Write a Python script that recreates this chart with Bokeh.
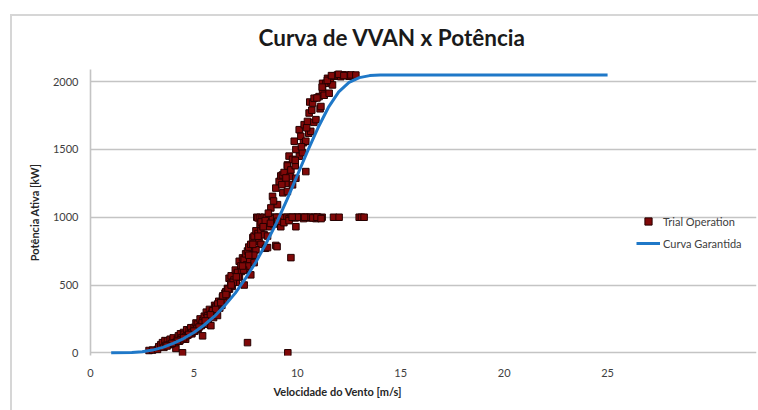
from bokeh.plotting import figure
from bokeh.models import Range1d, Legend, LegendItem, Title, FixedTicker
from bokeh.embed import file_html
from bokeh.resources import INLINE

# Guaranteed power curve (wind speed m/s, power kW)
curve_wind = [1, 2, 2.5, 3, 3.5, 4, 4.5, 5, 5.5, 6, 6.5, 7, 7.5, 8, 8.5, 9, 9.5, 10,
              10.5, 11, 11.5, 12, 12.5, 13, 13.5, 14, 15, 20, 25]
curve_power = [0, 2, 8, 20, 40, 70, 105, 150, 205, 270, 350, 440, 550, 670, 810, 960, 1130, 1310,
               1490, 1660, 1810, 1925, 1995, 2030, 2045, 2050, 2050, 2050, 2050]

trial_wind = [
    2.83, 3.0, 3.24, 3.3, 3.4, 3.48, 3.55, 3.6, 3.72, 3.8, 3.85, 3.96, 4.0, 4.05, 4.13, 4.2, 4.25, 4.3,
    4.35, 4.4, 4.45, 4.5, 4.53, 4.6, 4.65, 4.7, 4.77, 4.85, 4.9, 5.01, 5.05, 5.1, 5.17, 5.2, 5.3, 5.35,
    5.42, 5.42, 5.5, 5.55, 5.6, 5.66, 5.7, 5.75, 5.82, 5.85, 5.9, 5.95, 6.0, 6.06, 6.1, 6.14, 6.2, 6.25,
    6.3, 6.35, 6.38, 6.45, 6.5, 6.54, 6.6, 6.62, 6.7, 6.72, 6.78, 6.8, 6.85, 6.94, 7.0, 7.05, 7.1, 7.11,
    7.19, 7.2, 7.27, 7.3, 7.35, 7.43, 7.43, 7.5, 7.51, 7.55, 7.59, 7.59, 7.65, 7.7, 7.75, 7.75, 7.8, 7.85,
    7.91, 7.91, 7.95, 8.0, 8.04, 8.1, 8.15, 8.2, 8.24, 8.24, 8.3, 8.35, 8.4, 8.46, 8.5, 8.56, 8.56, 8.6,
    8.65, 8.72, 8.8, 8.85, 8.9, 8.96, 8.96, 9.02, 9.04, 9.1, 9.12, 9.15, 9.2, 9.2, 9.28, 9.3, 9.36, 9.4,
    9.45, 9.52, 9.52, 9.52, 9.54, 9.6, 9.65, 9.69, 9.69, 9.77, 9.77, 9.8, 9.85, 9.9, 9.93, 9.93, 9.93,
    10.0, 10.09, 10.1, 10.17, 10.2, 10.25, 10.3, 10.33, 10.41, 10.41, 10.45, 10.49, 10.55, 10.57, 10.6,
    10.65, 10.7, 10.74, 10.8, 10.81, 10.9, 10.95, 11.05, 11.1, 11.14, 11.2, 11.22, 11.22, 11.3, 11.38,
    11.46, 11.54, 11.6, 11.7, 11.75, 11.8, 11.94, 12.02, 12.1, 12.2, 12.35, 12.5, 12.59, 12.83, 12.99,
    13.1, 13.23,
    8.1, 8.2, 8.3, 8.4, 8.5, 8.7, 8.8, 9.0, 9.3, 9.5, 9.6, 9.7, 9.9, 10.1, 10.3, 10.4, 10.6, 10.8, 10.9,
    11.0, 11.1, 8.25, 8.45, 8.7, 9.05, 9.35, 9.6, 10.6, 10.75, 10.95, 11.15, 10.35, 10.0, 9.75, 8.0,
    7.9, 7.6, 7.4, 7.15, 6.9, 6.65, 6.4, 6.15, 5.9, 5.65, 5.4, 5.15, 4.9, 4.6, 4.35, 4.1, 3.9, 3.65,
    9.9, 10.2, 10.45, 10.7, 10.95, 11.2, 11.45, 11.65, 12.0, 12.25, 9.25, 9.45, 8.85, 8.6, 8.35, 8.1,
    7.85, 7.65, 7.35, 7.05, 6.8, 6.55, 6.3, 6.05, 5.8, 5.55, 5.25, 5.0, 4.75, 4.5, 4.2, 3.95, 3.7,
]
trial_power = [
    17, 20, 25, 45, 60, 75, 40, 90, 88, 60, 100, 88, 110, 70, 32, 100, 125, 85,
    140, 110, 0, 150, 137, 100, 170, 130, 162, 185, 140, 187, 160, 220, 212, 175, 250, 200,
    237, 125, 270, 210, 300, 275, 240, 320, 200, 290, 312, 260, 350, 337, 300, 275, 380, 330,
    375, 350, 412, 390, 440, 450, 420, 475, 550, 470, 512, 568, 490, 537, 610, 520, 587, 593,
    675, 560, 641, 600, 700, 690, 500, 730, 612, 650, 75, 751, 780, 690, 800, 575, 720, 850,
    861, 665, 760, 900, 1000, 880, 820, 950, 898, 800, 990, 930, 870, 771, 960, 861, 776, 1000,
    930, 1069, 1154, 950, 1000, 1215, 792, 783, 1093, 1000, 1264, 960, 930, 1305, 1312, 1180, 1330, 1000,
    1250, 1386, 1378, 1190, 0, 1451, 1300, 1349, 702, 1427, 1239, 1000, 1561, 1380, 1500, 1288, 930,
    1000, 1646, 1450, 1597, 1000, 1476, 1550, 1683, 1561, 1337, 1000, 1707, 1620, 1769, 1850,
    1634, 1000, 1842, 1700, 1878, 1720, 1000, 1890, 1800, 1817, 1000, 1939, 1988, 1900, 1988,
    2025, 1915, 2000, 1976, 1000, 2040, 2050, 1000, 2037, 2050, 2049, 2040, 2050, 2049, 1000,
    1000, 1000,
    995, 1000, 995, 1000, 995, 1000, 990, 1000, 995, 1000, 990, 1000, 995, 1000, 990, 1000, 995, 1000, 990,
    1000, 995, 965, 975, 955, 970, 960, 975, 1000, 995, 1000, 990, 1000, 1000, 1000, 760,
    720, 640, 610, 560, 520, 470, 420, 360, 310, 260, 220, 180, 150, 120, 95, 75, 65, 55,
    1420, 1520, 1660, 1790, 1880, 1960, 2010, 2045, 2055, 2045, 1240, 1290, 1120, 1030, 930, 860,
    800, 720, 640, 560, 500, 430, 370, 320, 280, 235, 190, 160, 135, 110, 85, 70, 50,
]

x_ticks = [0, 5, 10, 15, 20, 25]
y_ticks = [0, 500, 1000, 1500, 2000]
x_max = 25

FONT = "Lato"

# frame extends to the right edge so the legend (drawn inside the frame) is not clipped;
# the scale keeps 0..25 over the original plot width
p = figure(width=758, height=410, output_backend="svg", toolbar_location=None,
           x_range=Range1d(0, 32.2), y_range=Range1d(-20, 2090),
           min_border_left=90, min_border_right=2, min_border_top=69, min_border_bottom=55)
# light chart-area border (left and top edges), drawn behind a transparent border area
p.styles = {
    "background-color": "white",
    "background-image": "linear-gradient(#d6d6d6, #d6d6d6), linear-gradient(#d6d6d6, #d6d6d6)",
    "background-size": "2px 100%, 100% 2px",
    "background-position": "10px 14px, 10px 14px",
    "background-repeat": "no-repeat",
}

p.title = Title(text="Curva de VVAN x Potência", align="left", offset=168,
                text_font=FONT, text_font_size="22.5px", text_font_style="bold",
                text_color="#1a1a1a", standoff=38)

p.outline_line_color = None
p.background_fill_color = "white"
p.border_fill_color = None

p.xgrid.grid_line_color = None
p.ygrid.grid_line_color = "#c4c4c4"
p.ygrid.grid_line_width = 1.6
p.ygrid.ticker = FixedTicker(ticks=y_ticks)
p.ygrid.bounds = (0, x_max)

p.xaxis.ticker = FixedTicker(ticks=x_ticks)
p.yaxis.ticker = FixedTicker(ticks=y_ticks)
for ax in (p.xaxis, p.yaxis):
    ax.major_tick_line_color = None
    ax.minor_tick_line_color = None
    ax.major_tick_out = 0
    ax.major_tick_in = 0
    ax.major_label_text_font = FONT
    ax.major_label_text_font_size = "11px"
    ax.major_label_text_color = "#404040"
    ax.axis_label_text_font = FONT
    ax.axis_label_text_font_size = "11px"
    ax.axis_label_text_font_style = "bold"
    ax.axis_label_text_color = "#262626"

p.xaxis.axis_line_color = None
p.yaxis.axis_line_color = "#c4c4c4"
p.yaxis.axis_line_width = 1.6
p.yaxis.axis_label = "Potência Ativa [kW]"
p.xaxis.major_label_standoff = 13
p.yaxis.major_label_standoff = 12
p.yaxis.axis_label_standoff = 9

xlabel = Title(text="Velocidade do Vento [m/s]", align="left", offset=183,
               text_font=FONT, text_font_size="11px", text_font_style="bold",
               text_color="#262626", standoff=6)
p.add_layout(xlabel, "below")

sc = p.scatter(trial_wind, trial_power, marker="square", size=6.5,
               fill_color="#800808", line_color="#260000", line_width=1)
ln = p.line(curve_wind, curve_power, line_color="#1f78c8", line_width=3)

legend = Legend(items=[LegendItem(label="Trial Operation", renderers=[sc]),
                       LegendItem(label="Curva Garantida", renderers=[ln])],
                location=(546, 103), border_line_color=None, background_fill_alpha=0,
                label_text_font=FONT, label_text_font_size="11px", label_text_color="#404040",
                glyph_width=24, glyph_height=18, spacing=4, label_standoff=3, padding=4, margin=0)
p.add_layout(legend, "center")

open("out.html", "w").write(file_html(p, INLINE))
